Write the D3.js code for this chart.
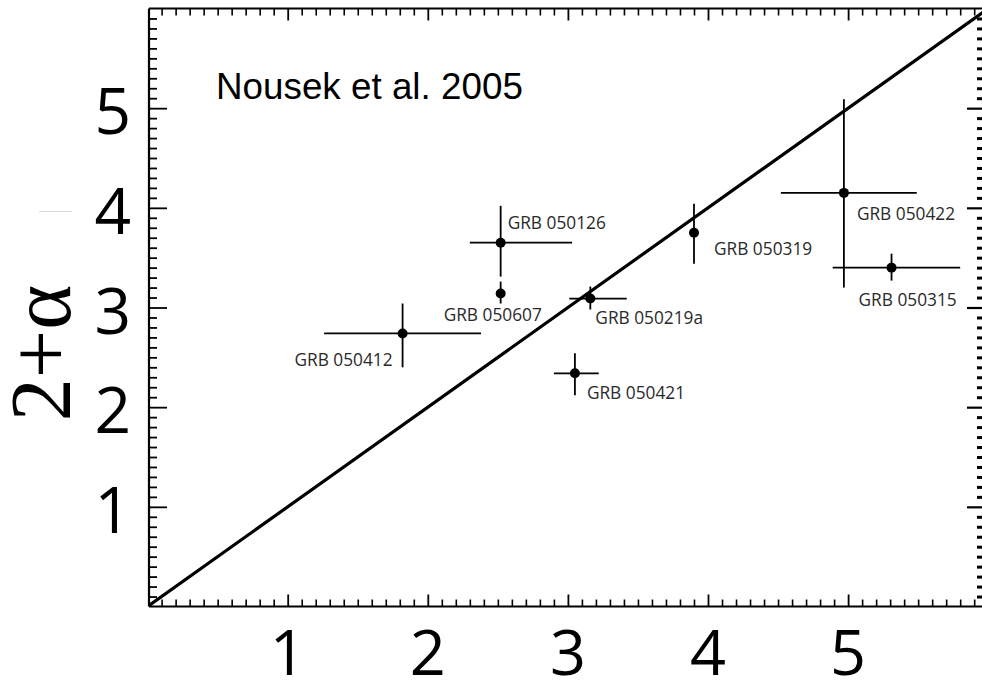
<!DOCTYPE html>
<html>
<head>
<meta charset="utf-8">
<script src="https://cdn.jsdelivr.net/npm/d3@7"></script>
<style>
  html, body { margin: 0; padding: 0; background: #fff; }
  svg { display: block; }
</style>
</head>
<body>
<svg id="chart" width="982" height="681"></svg>
<script>
// GRB sample: spectral index (x) against 2+alpha (y), with asymmetric errors
const grbNames = ["GRB 050126", "GRB 050607", "GRB 050412", "GRB 050219a",
                  "GRB 050421", "GRB 050319", "GRB 050422", "GRB 050315"];
const xVals = [2.52, 2.52, 1.82, 3.16, 3.05, 3.90, 4.97, 5.31];
const xLow  = [2.30, 2.52, 1.26, 3.01, 2.90, 3.87, 4.52, 4.89];
const xHigh = [3.03, 2.52, 2.38, 3.42, 3.22, 3.93, 5.49, 5.80];
const yVals = [3.65, 3.14, 2.74, 3.09, 2.34, 3.75, 4.15, 3.40];
const yLow  = [3.31, 3.04, 2.40, 2.98, 2.12, 3.44, 3.20, 3.27];
const yHigh = [4.02, 3.26, 3.04, 3.21, 2.54, 4.04, 5.09, 3.54];

// label placement relative to each point (pixels): dx, dy, anchor
const labelDx = [7, -57, -10, 5, 12, 20, 13, -33];
const labelDy = [-14, 27, 33, 25, 26, 22, 27, 38];
const labelAnchor = ["start", "start", "end", "start", "start", "start", "start", "start"];

const xTickLabels = [1, 2, 3, 4, 5];
const yTickLabels = [1, 2, 3, 4, 5];
const citation = "Nousek et al. 2005";

const svg = d3.select("#chart");

const plotLeft = 149, plotRight = 984, plotTop = 8.5, plotBottom = 606.5;
const x = d3.scaleLinear().domain([0.01, 5.97]).range([plotLeft, plotRight]);
const y = d3.scaleLinear().domain([0, 6]).range([plotBottom, plotTop]);

const minorX = d3.range(1, 60).map(d => d / 10).filter(d => Math.abs(d - Math.round(d)) > 1e-6);
const minorY = d3.range(1, 60).map(d => d / 10).filter(d => Math.abs(d - Math.round(d)) > 1e-6);

function styleAxis(g, width) {
  g.select(".domain").remove();
  g.selectAll(".tick line").attr("stroke", "#000").attr("stroke-width", width);
  g.selectAll(".tick text").remove();
}

// bottom axis (ticks pointing up)
svg.append("g").attr("transform", `translate(0,${plotBottom})`)
  .call(d3.axisBottom(x).tickValues(minorX).tickSize(-7).tickSizeOuter(0))
  .call(g => styleAxis(g, 1.6));
svg.append("g").attr("transform", `translate(0,${plotBottom})`)
  .call(d3.axisBottom(x).tickValues(xTickLabels).tickSize(-12).tickSizeOuter(0))
  .call(g => styleAxis(g, 1.8));

// top axis (ticks pointing down)
svg.append("g").attr("transform", `translate(0,${plotTop})`)
  .call(d3.axisTop(x).tickValues(minorX).tickSize(-7).tickSizeOuter(0))
  .call(g => styleAxis(g, 1.6));
svg.append("g").attr("transform", `translate(0,${plotTop})`)
  .call(d3.axisTop(x).tickValues(xTickLabels).tickSize(-12).tickSizeOuter(0))
  .call(g => styleAxis(g, 1.8));

// left axis (ticks pointing right)
svg.append("g").attr("transform", `translate(${plotLeft},0)`)
  .call(d3.axisLeft(y).tickValues(minorY).tickSize(-8).tickSizeOuter(0))
  .call(g => styleAxis(g, 1.8));
svg.append("g").attr("transform", `translate(${plotLeft},0)`)
  .call(d3.axisLeft(y).tickValues(yTickLabels).tickSize(-18).tickSizeOuter(0))
  .call(g => styleAxis(g, 1.8));

// right axis (short heavy ticks pointing left)
svg.append("g").attr("transform", `translate(${plotRight - 2},0)`)
  .call(d3.axisRight(y).tickValues(minorY).tickSize(-5).tickSizeOuter(0))
  .call(g => styleAxis(g, 3));
svg.append("g").attr("transform", `translate(${plotRight - 2},0)`)
  .call(d3.axisRight(y).tickValues(yTickLabels).tickSize(-15).tickSizeOuter(0))
  .call(g => styleAxis(g, 2.2));

// frame
svg.append("line").attr("x1", plotLeft).attr("x2", plotRight).attr("y1", plotBottom).attr("y2", plotBottom)
  .attr("stroke", "#000").attr("stroke-width", 2.2);
svg.append("line").attr("x1", plotLeft).attr("x2", plotRight).attr("y1", plotTop).attr("y2", plotTop)
  .attr("stroke", "#000").attr("stroke-width", 1.8);
svg.append("line").attr("x1", plotLeft).attr("x2", plotLeft).attr("y1", plotTop).attr("y2", plotBottom)
  .attr("stroke", "#000").attr("stroke-width", 2.2);

// tick labels
svg.append("g").selectAll("text").data(xTickLabels).join("text")
  .attr("x", d => x(d)).attr("y", 675)
  .attr("text-anchor", "middle")
  .attr("font-family", "'Open Sans', sans-serif").attr("font-size", 63)
  .attr("fill", "#000")
  .text(d => d);
svg.append("g").selectAll("text").data(yTickLabels).join("text")
  .attr("x", 131).attr("y", d => y(d) + 26)
  .attr("text-anchor", "end")
  .attr("font-family", "'Open Sans', sans-serif").attr("font-size", 64)
  .attr("fill", "#000")
  .text(d => d);

// y-axis title
svg.append("text")
  .attr("transform", "translate(70,353) rotate(-90)")
  .attr("text-anchor", "middle")
  .attr("font-family", "'Liberation Serif', 'Times New Roman', serif")
  .attr("font-size", 86).attr("fill", "#000")
  .text("2+α");
svg.append("line").attr("x1", 39).attr("x2", 72).attr("y1", 211.5).attr("y2", 211.5)
  .attr("stroke", "#d8d8d8").attr("stroke-width", 1);

// plot area clip
svg.append("clipPath").attr("id", "plotClip")
  .append("rect").attr("x", plotLeft).attr("y", plotTop)
  .attr("width", plotRight - plotLeft).attr("height", plotBottom - plotTop);

// y = x reference line
const lineEnd = 5.97;
svg.append("line")
  .attr("clip-path", "url(#plotClip)")
  .attr("x1", x(0)).attr("y1", y(0)).attr("x2", x(lineEnd)).attr("y2", y(lineEnd))
  .attr("stroke", "#000").attr("stroke-width", 3.2);

// error bars and points
const idx = d3.range(grbNames.length);
const pts = svg.append("g");
pts.selectAll("line.xerr").data(idx.filter(i => xHigh[i] > xLow[i])).join("line")
  .attr("class", "xerr")
  .attr("x1", i => x(xLow[i])).attr("x2", i => x(xHigh[i]))
  .attr("y1", i => y(yVals[i])).attr("y2", i => y(yVals[i]))
  .attr("stroke", "#000").attr("stroke-width", 1.8);
pts.selectAll("line.yerr").data(idx).join("line")
  .attr("class", "yerr")
  .attr("x1", i => x(xVals[i])).attr("x2", i => x(xVals[i]))
  .attr("y1", i => y(yLow[i])).attr("y2", i => y(yHigh[i]))
  .attr("stroke", "#000").attr("stroke-width", 1.8);
pts.selectAll("circle").data(idx).join("circle")
  .attr("cx", i => x(xVals[i])).attr("cy", i => y(yVals[i]))
  .attr("r", 5).attr("fill", "#000");

// point labels
pts.selectAll("text").data(idx).join("text")
  .attr("x", i => x(xVals[i]) + labelDx[i])
  .attr("y", i => y(yVals[i]) + labelDy[i])
  .attr("text-anchor", i => labelAnchor[i])
  .attr("font-family", "'Open Sans', sans-serif").attr("font-size", 17.3)
  .attr("fill", "#2a2a2a")
  .text(i => grbNames[i]);

// citation
svg.append("text")
  .attr("x", 216).attr("y", 98.5)
  .attr("font-family", "'Liberation Sans', Arial, sans-serif").attr("font-size", 36.8)
  .attr("fill", "#000")
  .text(citation);
</script>
</body>
</html>
